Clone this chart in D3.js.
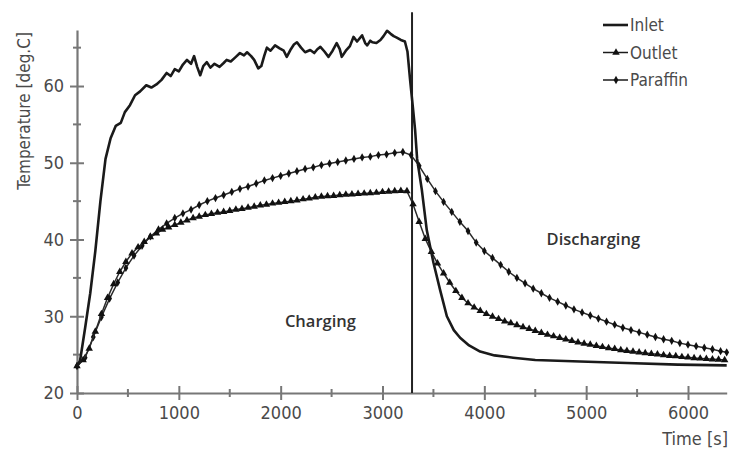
<!DOCTYPE html>
<html><head><meta charset="utf-8">
<script src="https://cdn.jsdelivr.net/npm/d3@7"></script>
<style>
html,body{margin:0;padding:0;background:#fff;}
svg{display:block;}
.tick-label{font-family:"DejaVu Sans",sans-serif;font-stretch:condensed;fill:#4a4a4a;}
</style>
</head><body>
<svg id="chart" width="732" height="454"></svg>
<script>
// ---- data ----
const inletTime = [0,30,80,130,180,230,280,330,380,430,470,520,570,620,680,730,780,830,880,920,960,1000,1040,1080,1120,1150,1180,1210,1240,1275,1310,1350,1400,1440,1470,1510,1560,1600,1640,1670,1710,1740,1780,1810,1840,1865,1900,1945,1990,2030,2060,2100,2130,2160,2200,2240,2290,2330,2360,2390,2430,2470,2510,2550,2580,2600,2640,2680,2715,2750,2800,2830,2850,2880,2900,2940,2980,3010,3045,3080,3110,3140,3180,3220,3245,3271,3300,3320,3340,3386,3435,3500,3566,3632,3700,3762,3850,3959,4100,4283,4500,4941,5400,5900,6380];
const inletTemp = [23.5,24.2,28.5,33.0,38.5,45.0,50.5,53.2,54.8,55.2,56.6,57.5,58.8,59.3,60.1,59.8,60.2,60.8,61.7,61.3,62.2,61.9,62.8,63.4,62.9,63.9,62.5,61.4,62.6,63.1,62.4,62.9,62.5,63.0,63.4,63.2,63.8,64.3,64.0,64.4,63.9,63.4,62.3,62.6,64.0,65.0,64.6,65.3,64.9,64.6,63.8,64.8,65.4,65.7,65.0,64.4,64.7,64.3,64.8,65.1,64.5,63.8,64.6,65.6,64.8,63.8,64.6,65.2,66.4,65.8,66.6,65.6,65.3,65.9,65.7,65.6,66.0,66.5,67.2,66.8,66.5,66.3,66.0,65.8,64.5,60.8,57.0,54.3,50.5,46.5,41.2,37.0,33.4,30.0,28.2,27.2,26.2,25.4,24.9,24.6,24.3,24.1,23.9,23.7,23.6];

const outletTime = [0,60,120,180,240,300,360,420,480,540,600,660,720,780,840,900,960,1020,1080,1140,1200,1260,1320,1380,1440,1500,1560,1620,1680,1740,1800,1860,1920,1980,2040,2100,2160,2220,2280,2340,2400,2460,2520,2580,2640,2700,2760,2820,2880,2940,3000,3060,3120,3180,3240,3300,3360,3420,3480,3540,3600,3660,3720,3780,3840,3900,3960,4020,4080,4140,4200,4260,4320,4380,4440,4500,4560,4620,4680,4740,4800,4860,4920,4980,5040,5100,5160,5220,5280,5340,5400,5460,5520,5580,5640,5700,5760,5820,5880,5940,6000,6060,6120,6180,6240,6300,6360];
const outletTemp = [23.5,24.3,25.8,28.0,30.3,32.4,34.2,35.8,37.1,38.2,39.0,39.7,40.3,40.8,41.3,41.6,41.9,42.2,42.5,42.8,43.0,43.2,43.35,43.5,43.6,43.75,43.9,44.0,44.15,44.3,44.45,44.55,44.7,44.8,44.9,45.0,45.1,45.25,45.35,45.5,45.6,45.65,45.7,45.8,45.85,45.9,45.95,46.0,46.05,46.1,46.2,46.25,46.3,46.35,46.3,44.6,42.3,40.1,38.4,36.9,35.6,34.4,33.3,32.4,31.7,31.15,30.7,30.3,29.95,29.65,29.35,29.1,28.85,28.6,28.35,28.1,27.85,27.6,27.4,27.2,27.0,26.8,26.6,26.45,26.3,26.15,26.0,25.85,25.75,25.6,25.5,25.4,25.3,25.2,25.1,25.05,24.95,24.85,24.8,24.7,24.65,24.55,24.5,24.45,24.4,24.35,24.3];

const paraffinTime = [0,80,160,240,320,400,480,560,640,720,800,880,960,1040,1120,1200,1280,1360,1440,1520,1600,1680,1760,1840,1920,2000,2080,2160,2240,2320,2400,2480,2560,2640,2720,2800,2880,2960,3040,3120,3200,3280,3360,3440,3520,3600,3680,3760,3840,3920,4000,4080,4160,4240,4320,4400,4480,4560,4640,4720,4800,4880,4960,5040,5120,5200,5280,5360,5440,5520,5600,5680,5760,5840,5920,6000,6080,6160,6240,6320,6380];
const paraffinTemp = [23.5,24.6,27.3,29.9,32.3,34.4,36.3,37.9,39.2,40.4,41.3,42.1,42.8,43.4,43.9,44.5,45.0,45.4,45.8,46.2,46.6,46.9,47.3,47.7,48.0,48.3,48.6,48.9,49.2,49.4,49.7,49.9,50.1,50.3,50.5,50.7,50.8,51.0,51.1,51.3,51.4,51.0,49.6,47.9,46.3,44.9,43.6,42.3,41.1,39.6,38.5,37.6,36.7,35.8,35.0,34.3,33.6,33.0,32.4,31.9,31.4,30.9,30.5,30.1,29.7,29.3,28.9,28.5,28.2,27.9,27.6,27.3,27.0,26.8,26.5,26.3,26.1,25.9,25.7,25.45,25.3];

const xTicksMajor = [0,1000,2000,3000,4000,5000,6000];
const xTicksMinor = [500,1500,2500,3500,4500,5500];
const yTicksMajor = [20,30,40,50,60];
const yTicksMinor = [25,35,45,55,65];
const switchTime = 3290;
const seriesNames = ["Inlet","Outlet","Paraffin"];
const phaseLabels = [{text:"Charging", t:2390, T:28.6},{text:"Discharging", t:5070, T:39.3}];

// ---- scales ----
const svg = d3.select("#chart");
const x = d3.scaleLinear().domain([0, 6380]).range([77, 726.7]);
const y = d3.scaleLinear().domain([20, 67.3]).range([393, 30]);

const axisColor = "#777";

// y axis: labels via d3 axis, ticks drawn across the axis line
const yAxisG = svg.append("g").attr("transform","translate(77,0)")
  .call(d3.axisLeft(y).tickValues(yTicksMajor).tickSizeInner(7).tickSizeOuter(0).tickPadding(6).tickFormat(d3.format("d")));
yAxisG.select(".domain").attr("stroke",axisColor).attr("stroke-width",2.2);
yAxisG.selectAll(".tick line").attr("stroke",axisColor).attr("stroke-width",2).attr("x2",-7).attr("x1",7);
yAxisG.selectAll(".tick text").attr("class","tick-label").style("font-size","18px");
const yMinorG = svg.append("g").attr("transform","translate(77,0)");
yMinorG.selectAll("line").data(yTicksMinor).join("line")
  .attr("x1",-4).attr("x2",4).attr("y1",d=>y(d)).attr("y2",d=>y(d))
  .attr("stroke",axisColor).attr("stroke-width",2);

// x axis
const xAxisG = svg.append("g").attr("transform","translate(0,393)")
  .call(d3.axisBottom(x).tickValues(xTicksMajor).tickSizeInner(7).tickSizeOuter(0).tickPadding(6).tickFormat(d3.format("d")));
xAxisG.select(".domain").attr("stroke",axisColor).attr("stroke-width",2.2);
xAxisG.selectAll(".tick line").attr("stroke",axisColor).attr("stroke-width",2).attr("y1",-7).attr("y2",7);
xAxisG.selectAll(".tick text").attr("class","tick-label").style("font-size","18px");
const xMinorG = svg.append("g").attr("transform","translate(0,393)");
xMinorG.selectAll("line").data(xTicksMinor).join("line")
  .attr("x1",d=>x(d)).attr("x2",d=>x(d)).attr("y1",-4).attr("y2",4)
  .attr("stroke",axisColor).attr("stroke-width",2);

// axis titles
svg.append("text").attr("class","tick-label").attr("transform","translate(30,111) rotate(-90)")
  .attr("text-anchor","middle").style("font-size","17px").text("Temperature [deg.C]");
svg.append("text").attr("class","tick-label").attr("x",728).attr("y",445)
  .attr("text-anchor","end").style("font-size","18px").text("Time [s]");

// switch line
svg.append("line").attr("x1",x(switchTime)).attr("x2",x(switchTime)).attr("y1",y(69.6)).attr("y2",y(20))
  .attr("stroke","#222").attr("stroke-width",2);

// series
const lineGen = d3.line().x(d=>x(d[0])).y(d=>y(d[1]));
const inlet = inletTime.map((t,i)=>[t,inletTemp[i]]);
const outlet = outletTime.map((t,i)=>[t,outletTemp[i]]);
const paraffin = paraffinTime.map((t,i)=>[t,paraffinTemp[i]]);

svg.append("path").datum(paraffin).attr("d",lineGen).attr("fill","none").attr("stroke","#2a2a2a").attr("stroke-width",1.5);
svg.append("g").selectAll("path").data(paraffin).join("path")
  .attr("d",d3.symbol(d3.symbolDiamond,20))
  .attr("transform",d=>`translate(${x(d[0])},${y(d[1])})`).attr("fill","#111");

svg.append("path").datum(outlet).attr("d",lineGen).attr("fill","none").attr("stroke","#2a2a2a").attr("stroke-width",1.5);
svg.append("g").selectAll("path").data(outlet).join("path")
  .attr("d",d3.symbol(d3.symbolTriangle,24))
  .attr("transform",d=>`translate(${x(d[0])},${y(d[1])})`).attr("fill","#111");

svg.append("path").datum(inlet).attr("d",lineGen).attr("fill","none").attr("stroke","#1a1a1a")
  .attr("stroke-width",2.6).attr("stroke-linejoin","round");

// phase labels
svg.append("g").selectAll("text").data(phaseLabels).join("text")
  .attr("x",d=>x(d.t)).attr("y",d=>y(d.T)).attr("text-anchor","middle")
  .style("font-family","'Open Sans',sans-serif").style("font-weight","600").style("font-size","16.5px")
  .attr("fill","#333").text(d=>d.text);

// legend
const leg = svg.append("g").attr("transform","translate(603,25)");
seriesNames.forEach((name,i)=>{
  const g = leg.append("g").attr("transform",`translate(0,${i*27.5})`);
  g.append("line").attr("x1",0).attr("x2",25).attr("y1",0).attr("y2",0)
    .attr("stroke","#1a1a1a").attr("stroke-width",i===0?2.6:1.5);
  if(i===1) g.append("path").attr("d",d3.symbol(d3.symbolTriangle,24)).attr("transform","translate(13,0)").attr("fill","#111");
  if(i===2) g.append("path").attr("d",d3.symbol(d3.symbolDiamond,20)).attr("transform","translate(13,0)").attr("fill","#111");
  g.append("text").attr("class","tick-label").attr("x",27).attr("y",6).style("font-size","17px").text(name);
});
</script>
</body></html>
